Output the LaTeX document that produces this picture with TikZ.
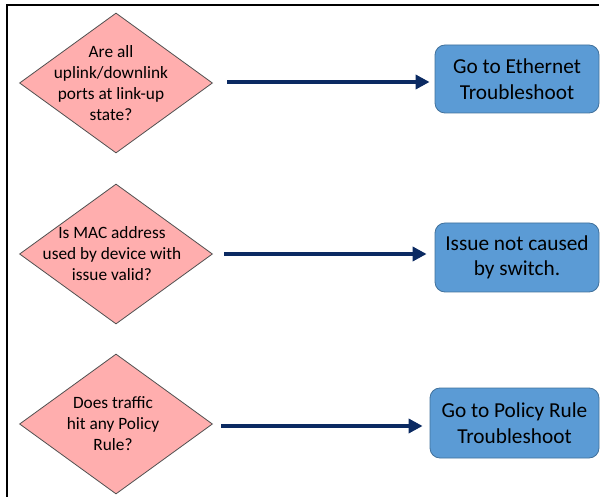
\documentclass[tikz,border=0pt]{standalone}
\usepackage{fontspec}
\setmainfont{Carlito}
\usetikzlibrary{shapes.geometric,arrows.meta}
\definecolor{decfill}{HTML}{FFAEAE}
\definecolor{decline}{HTML}{505050}
\definecolor{actfill}{HTML}{5B9BD5}
\definecolor{actline}{HTML}{41719C}
\definecolor{flow}{HTML}{0B2A62}
\tikzset{
  decision/.style={diamond, aspect=1.379, fill=decfill, draw=decline, line width=0.8pt,
    minimum width=193pt, minimum height=140pt, inner sep=0pt},
  qtext/.style={align=center, inner sep=0pt, font=\fontsize{17.3}{21}\selectfont},
  action/.style={rectangle, rounded corners=10pt, fill=actfill, draw=actline, line width=0.8pt,
    minimum width=164pt, inner sep=0pt, align=center,
    font=\fontsize{21.3}{25.5}\selectfont},
  flowarrow/.style={draw=flow, line width=3.5pt, -{Triangle[length=14pt,width=14pt]}},
}
\begin{document}
\begin{tikzpicture}[x=1pt,y=-1pt]
  \useasboundingbox (0,0) rectangle (600,497);
  % outer frame, top and left edges
  \draw[line width=1.4pt] (599,5) -- (7,5) -- (7,497);

  % decisions
  \node[decision] (q1) at (116,83) {};
  \node[decision] (q2) at (116,254) {};
  \node[decision] (q3) at (116,424) {};
  \node[qtext] (q1t) at ([xshift=-5pt]q1.center) {Are all\\uplink/downlink\\ports at link-up\\state?};
  \node[qtext] (q2t) at ([xshift=-4pt]q2.center) {Is MAC address\\used by device with\\issue valid?};
  \node[qtext] (q3t) at ([xshift=-3pt]q3.center) {Does traffic\\hit any Policy\\Rule?};

  % outcomes
  \node[action, minimum height=68pt] (a1) at (517,79) {Go to Ethernet\\Troubleshoot};
  \node[action, minimum height=69pt] (a2) at (517,257.5) {Issue not caused\\by switch.};
  \node[action, minimum width=169pt, minimum height=70pt] (a3) at (514.5,423) {Go to Policy Rule\\Troubleshoot};

  % connectors start a little to the right of each decision
  \coordinate (s1) at (227,82);
  \coordinate (s2) at (224,254);
  \coordinate (s3) at (221,426);
  \draw[flowarrow] (s1) -- ([xshift=-5pt]s1 -| a1.west);
  \draw[flowarrow] (s2) -- ([xshift=-8pt]s2 -| a2.west);
  \draw[flowarrow] (s3) -- ([xshift=-7pt]s3 -| a3.west);
\end{tikzpicture}
\end{document}
